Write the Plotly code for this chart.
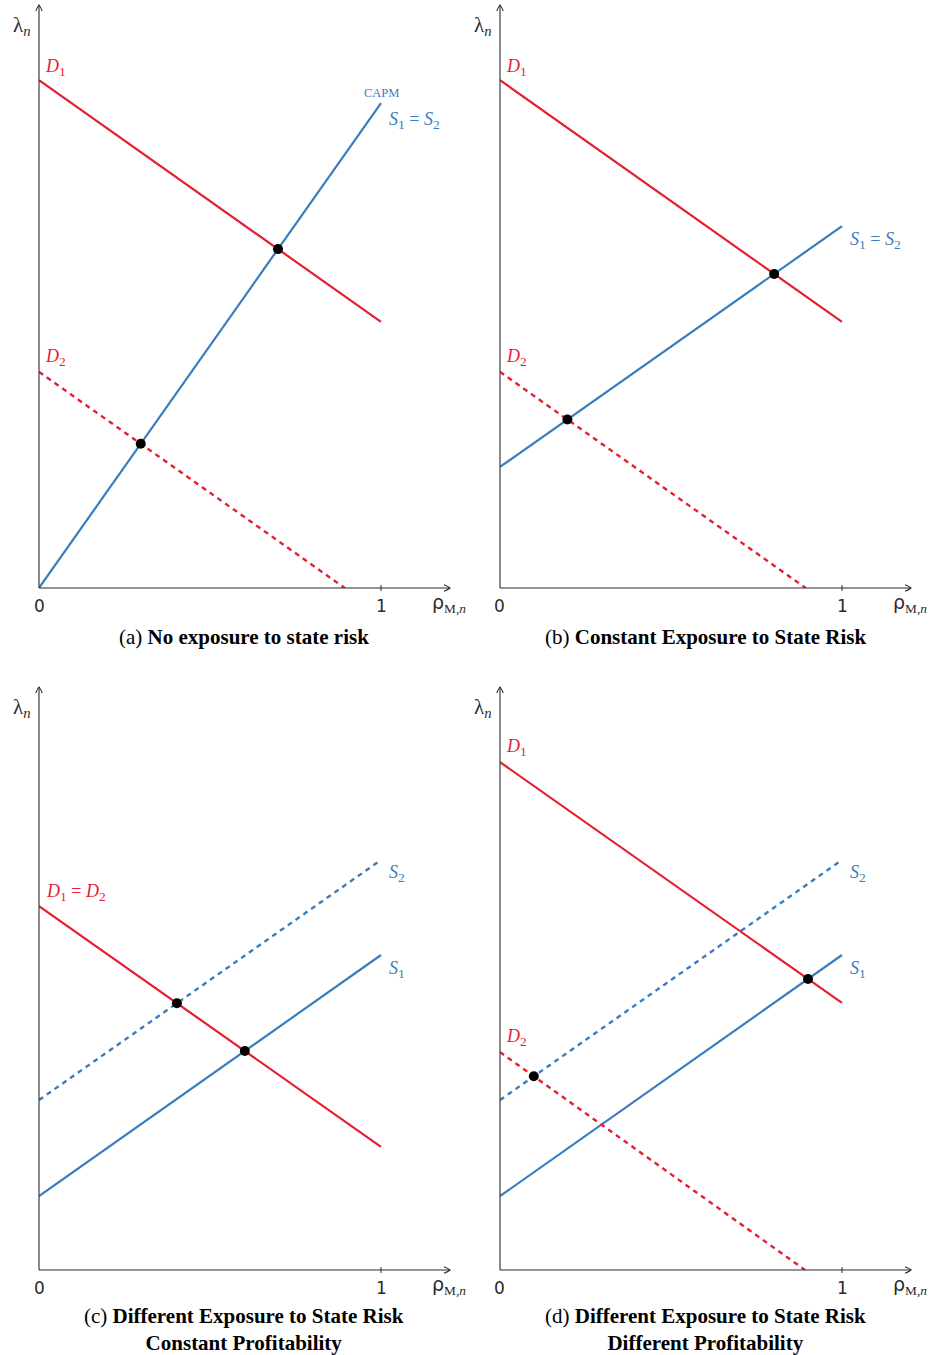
import plotly.graph_objects as go

W, H = 930, 1355

# ---- line data: (x values, y values) for each curve ----
# panel (a)
A_D1_X, A_D1_Y = [0, 1], [1.485, 0.778]
A_D2_X, A_D2_Y = [0, 0.894], [0.632, 0.0]
A_S_X, A_S_Y = [0, 1], [0.0, 1.418]
# panel (b)
B_D1_X, B_D1_Y = [0, 1], [1.485, 0.778]
B_D2_X, B_D2_Y = [0, 0.894], [0.632, 0.0]
B_S_X, B_S_Y = [0, 1], [0.354, 1.058]
# panel (c)
C_D_X, C_D_Y = [0, 1], [1.064, 0.360]
C_S1_X, C_S1_Y = [0, 1], [0.216, 0.921]
C_S2_X, C_S2_Y = [0, 1], [0.497, 1.199]
# panel (d)
D_D1_X, D_D1_Y = [0, 1], [1.485, 0.781]
D_D2_X, D_D2_Y = [0, 0.892], [0.637, 0.0]
D_S1_X, D_S1_Y = [0, 1], [0.216, 0.921]
D_S2_X, D_S2_Y = [0, 1], [0.497, 1.199]

CAPTIONS = [
    "(a) <b>No exposure to state risk</b>",
    "(b) <b>Constant Exposure to State Risk</b>",
    "(c) <b>Different Exposure to State Risk</b><br><b>Constant Profitability</b>",
    "(d) <b>Different Exposure to State Risk</b><br><b>Different Profitability</b>",
]
TICK_LABELS = ["0", "1"]

RED = "#e61e32"
BLUE = "#3a7dbd"
AXIS = "#2a2a2a"
SERIF = "Liberation Serif"
SANS = "DejaVu Sans"

X_MAX = 411 / 342
Y_MAX = 583 / 342

# panel geometry in pixels: (left, right, bottom, top)
PANELS = [
    (39, 450, 588, 5),
    (500, 911, 588, 5),
    (39, 450, 1270, 687),
    (500, 911, 1270, 687),
]


def intersect(l1, l2):
    """Crossing point of two straight segments given as (xs, ys)."""
    (xa0, xa1), (ya0, ya1) = l1
    (xb0, xb1), (yb0, yb1) = l2
    m1 = (ya1 - ya0) / (xa1 - xa0)
    m2 = (yb1 - yb0) / (xb1 - xb0)
    c1 = ya0 - m1 * xa0
    c2 = yb0 - m2 * xb0
    x = (c2 - c1) / (m1 - m2)
    return x, m1 * x + c1


def sub(t):
    return "<sub><span style='font-size:13.5px'>" + t + "</span></sub>"


D1 = "<i>D</i>" + sub("1")
D2 = "<i>D</i>" + sub("2")
S1 = "<i>S</i>" + sub("1")
S2 = "<i>S</i>" + sub("2")

panels = [
    dict(
        lines=[((A_D1_X, A_D1_Y), RED, "solid"),
               ((A_D2_X, A_D2_Y), RED, "dash"),
               ((A_S_X, A_S_Y), BLUE, "solid")],
        dots=[((A_D1_X, A_D1_Y), (A_S_X, A_S_Y)),
              ((A_D2_X, A_D2_Y), (A_S_X, A_S_Y))],
        labels=[(D1, 55, 67, RED, 18),
                ("CAPM", 381, 93, BLUE, 12.5),
                (D2, 55, 357, RED, 18),
                (S1 + " = " + S2, 414, 120, BLUE, 18)],
    ),
    dict(
        lines=[((B_D1_X, B_D1_Y), RED, "solid"),
               ((B_D2_X, B_D2_Y), RED, "dash"),
               ((B_S_X, B_S_Y), BLUE, "solid")],
        dots=[((B_D1_X, B_D1_Y), (B_S_X, B_S_Y)),
              ((B_D2_X, B_D2_Y), (B_S_X, B_S_Y))],
        labels=[(D1, 516, 67, RED, 18),
                (D2, 516, 357, RED, 18),
                (S1 + " = " + S2, 875, 240, BLUE, 18)],
    ),
    dict(
        lines=[((C_S2_X, C_S2_Y), BLUE, "dash"),
               ((C_S1_X, C_S1_Y), BLUE, "solid"),
               ((C_D_X, C_D_Y), RED, "solid")],
        dots=[((C_D_X, C_D_Y), (C_S2_X, C_S2_Y)),
              ((C_D_X, C_D_Y), (C_S1_X, C_S1_Y))],
        labels=[(D1 + " = " + D2, 76, 892, RED, 18),
                (S2, 397, 873, BLUE, 18),
                (S1, 397, 969, BLUE, 18)],
    ),
    dict(
        lines=[((D_S2_X, D_S2_Y), BLUE, "dash"),
               ((D_S1_X, D_S1_Y), BLUE, "solid"),
               ((D_D2_X, D_D2_Y), RED, "dash"),
               ((D_D1_X, D_D1_Y), RED, "solid")],
        dots=[((D_D1_X, D_D1_Y), (D_S1_X, D_S1_Y)),
              ((D_D2_X, D_D2_Y), (D_S2_X, D_S2_Y))],
        labels=[(D1, 516, 747, RED, 18),
                (D2, 516, 1037, RED, 18),
                (S2, 858, 873, BLUE, 18),
                (S1, 858, 969, BLUE, 18)],
    ),
]

CAPTION_POS = [(244, 637), (705, 637), (244, 1329), (705, 1329)]


def px(x):
    return x / W


def py(y):
    return 1 - y / H


fig = go.Figure()
annotations = []
shapes = []


def arrow_line(x0, y0, x1, y1):
    """Axis line in pixel coordinates plus an open arrowhead at (x1, y1)."""
    shapes.append(dict(type="line", xref="paper", yref="paper",
                       x0=px(x0), y0=py(y0), x1=px(x1), y1=py(y1),
                       line=dict(color=AXIS, width=1.1)))
    horiz = y0 == y1
    if horiz:  # pointing right
        pts = [(x1 - 6, y1 - 3.2), (x1, y1), (x1 - 6, y1 + 3.2)]
        bend = (1.2, 0)
    else:  # pointing up
        pts = [(x1 - 3.2, y1 + 6), (x1, y1), (x1 + 3.2, y1 + 6)]
        bend = (0, -1.2)
    path = "M{},{} Q{},{} {},{} Q{},{} {},{}".format(
        px(pts[0][0]), py(pts[0][1]),
        px((pts[0][0] + pts[1][0]) / 2 + bend[0]),
        py((pts[0][1] + pts[1][1]) / 2 + bend[1]),
        px(pts[1][0]), py(pts[1][1]),
        px((pts[2][0] + pts[1][0]) / 2 + bend[0]),
        py((pts[2][1] + pts[1][1]) / 2 + bend[1]),
        px(pts[2][0]), py(pts[2][1]))
    shapes.append(dict(type="path", xref="paper", yref="paper", path=path,
                       line=dict(color=AXIS, width=1.1)))


for i, (panel, (left, right, bottom, top)) in enumerate(zip(panels, PANELS)):
    n = "" if i == 0 else str(i + 1)
    xa, ya = "x" + n, "y" + n
    fig.layout["xaxis" + n] = dict(
        domain=[px(left), px(right)], range=[0, X_MAX], anchor=ya,
        visible=False, fixedrange=True)
    fig.layout["yaxis" + n] = dict(
        domain=[py(bottom), py(top)], range=[0, Y_MAX], anchor=xa,
        visible=False, fixedrange=True)

    # axes with arrowheads
    arrow_line(left, bottom, right, bottom)
    arrow_line(left, bottom, left, top)

    for (xs, ys), color, dash in panel["lines"]:
        fig.add_trace(go.Scatter(
            x=xs, y=ys, mode="lines", xaxis=xa, yaxis=ya,
            line=dict(color=color, width=2.4 if dash == "dash" else 2.2,
                      dash="5px,4.5px" if dash == "dash" else "solid"),
            showlegend=False, hoverinfo="skip"))

    dx, dy = [], []
    for l1, l2 in panel["dots"]:
        x, y = intersect(l1, l2)
        dx.append(x)
        dy.append(y)
    fig.add_trace(go.Scatter(
        x=dx, y=dy, mode="markers", xaxis=xa, yaxis=ya,
        marker=dict(color="black", size=10), showlegend=False,
        hoverinfo="skip", cliponaxis=False))

    # tick mark at 1
    shapes.append(dict(type="line", xref=xa, yref="paper",
                       x0=1, x1=1, y0=py(bottom - 3), y1=py(bottom + 3),
                       line=dict(color=AXIS, width=1)))
    # tick labels
    for val, lab in zip([0, 1], TICK_LABELS):
        annotations.append(dict(
            x=val, y=py(bottom + 18), xref=xa, yref="paper", text=lab,
            showarrow=False, font=dict(family=SANS, size=17, color=AXIS),
            xanchor="center", yanchor="middle"))
    # axis titles
    annotations.append(dict(
        x=px(left - 17), y=py(top + 21), xref="paper", yref="paper",
        text="λ<sub><i>n</i></sub>", showarrow=False,
        font=dict(family=SERIF, size=21, color=AXIS),
        xanchor="center", yanchor="middle"))
    annotations.append(dict(
        x=px(right - 1), y=py(bottom + 15), xref="paper", yref="paper",
        text="ρ<sub><span style='font-family:Liberation Serif'>M,<i>n</i></span></sub>",
        showarrow=False, font=dict(family=SANS, size=19, color=AXIS),
        xanchor="center", yanchor="middle"))

    for text, x, y, color, size in panel["labels"]:
        annotations.append(dict(
            x=px(x), y=py(y), xref="paper", yref="paper", text=text,
            showarrow=False, font=dict(family=SERIF, size=size, color=color),
            xanchor="center", yanchor="middle"))

    cx, cy = CAPTION_POS[i]
    annotations.append(dict(
        x=px(cx), y=py(cy), xref="paper", yref="paper", text=CAPTIONS[i],
        showarrow=False, font=dict(family=SERIF, size=21, color="black"),
        xanchor="center", yanchor="middle", align="center"))

fig.update_layout(
    width=W, height=H, margin=dict(l=0, r=0, t=0, b=0),
    paper_bgcolor="white", plot_bgcolor="white",
    annotations=annotations, shapes=shapes,
)

fig.write_html("out.html")
